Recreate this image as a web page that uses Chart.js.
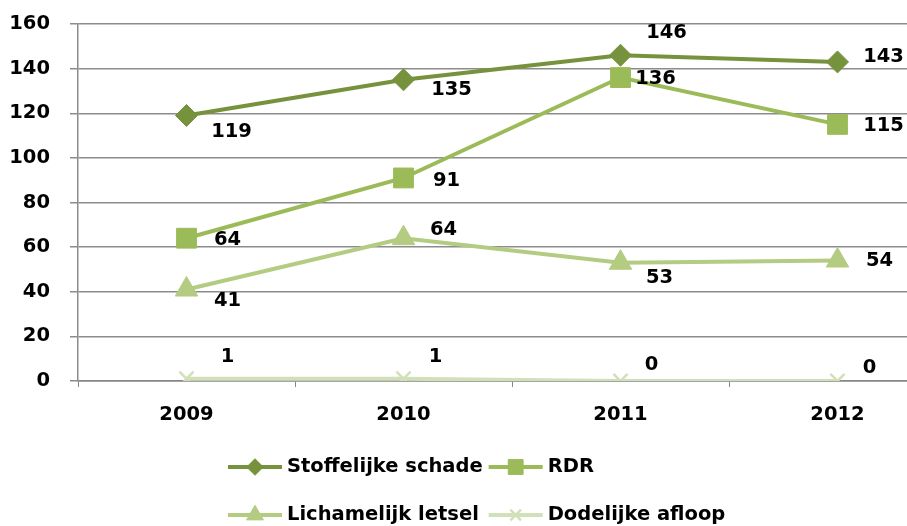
<!DOCTYPE html>
<html>
<head>
<meta charset="utf-8">
<script src="https://cdn.jsdelivr.net/npm/chart.js@4.4.1/dist/chart.umd.min.js"></script>
<style>
  html,body{margin:0;padding:0;background:#fff;overflow:hidden;}
  #wrap{width:968px;height:526px;position:relative;}
</style>
</head>
<body>
<div id="wrap"><canvas id="c"></canvas></div>
<script>
// ===== DATA =====
const jaren = ['2009','2010','2011','2012'];
const stoffelijk = [119,135,146,143];
const rdr        = [64,91,136,115];
const letsel     = [41,64,53,54];
const dodelijk   = [1,1,0,0];
const yTicks     = [0,20,40,60,80,100,120,140,160];

// label offsets (px) relatief t.o.v. het punt
const offStof = [[45,16],[48,10],[46,-22],[46,-5]];
const offRdr  = [[41,2],[43,3],[35,1],[46,2]];
const offLet  = [[41,11],[40,-8],[39,15],[42,0]];
const offDod  = [[41,-22],[32,-22],[31,-16],[32,-13]];

const FONT = '"DejaVu Sans", sans-serif';
const FS = 19.5;

function ds(label,data,color,style,radius,offs){
  return {label,data,borderColor:color,backgroundColor:color,borderWidth:4,
    pointStyle:style,pointRadius:radius,pointHoverRadius:radius,pointBorderWidth:style==='crossRot'?2.5:1,
    pointBorderColor:color,pointBackgroundColor:color,tension:0,offs};
}

// labels bij de punten
const valueLabels = {
  id:'valueLabels',
  afterDatasetsDraw(chart){
    const ctx=chart.ctx;
    ctx.save();
    ctx.font='bold '+FS+'px '+FONT;
    ctx.fillStyle='#000';
    ctx.textAlign='center';ctx.textBaseline='middle';
    chart.data.datasets.forEach((d,i)=>{
      chart.getDatasetMeta(i).data.forEach((p,j)=>{
        ctx.fillText(String(d.data[j]),p.x+d.offs[j][0],p.y+d.offs[j][1]);
      });
    });
    ctx.restore();
  }
};

// legenda in 2 kolommen (grid zoals Excel)
const gridLegend = {
  id:'gridLegend',
  afterDraw(chart){
    const ctx=chart.ctx, sets=chart.data.datasets;
    ctx.save();
    ctx.font='bold '+FS+'px '+FONT;
    const lineW=54, gap=5;
    const w=sets.map(d=>ctx.measureText(d.label).width);
    const x0=228, rows=[467,515];
    const col2=x0+lineW+gap+Math.max(w[0],w[2])+6;
    sets.forEach((d,i)=>{
      const x=i%2?col2:x0, y=rows[Math.floor(i/2)];
      ctx.strokeStyle=d.borderColor;ctx.lineWidth=4;
      ctx.beginPath();ctx.moveTo(x,y);ctx.lineTo(x+lineW,y);ctx.stroke();
      ctx.fillStyle=d.pointBackgroundColor;ctx.strokeStyle=d.pointBorderColor;
      ctx.lineWidth=d.pointBorderWidth;
      Chart.helpers.drawPoint(ctx,{pointStyle:d.pointStyle,radius:d.pointRadius*0.75,borderWidth:d.pointBorderWidth,
        rotation:0},x+lineW/2,y);
      ctx.fillStyle='#000';ctx.textAlign='left';ctx.textBaseline='middle';
      ctx.fillText(d.label,x+lineW+gap,y);
    });
    ctx.restore();
  }
};

const chart = new Chart(document.getElementById('c'),{
  type:'line',
  data:{labels:jaren,datasets:[
    ds('Stoffelijke schade',stoffelijk,'#76923C','rectRot',11,offStof),
    ds('RDR',rdr,'#9BBB59','rect',14,offRdr),
    ds('Lichamelijk letsel',letsel,'#B3CC82','triangle',13,offLet),
    ds('Dodelijke afloop',dodelijk,'#D2E0BA','crossRot',10,offDod)
  ]},
  options:{
    responsive:true,maintainAspectRatio:false,animation:false,
    layout:{padding:{top:24,right:22,left:0,bottom:0}},
    plugins:{legend:{display:false},tooltip:{enabled:false}},
    scales:{
      x:{
        offset:true,
        grid:{offset:true,drawOnChartArea:false,color:'#868686',tickLength:6,tickColor:'#868686'},
        border:{color:'#868686',width:1.5},
        ticks:{color:'#000',font:{family:FONT,size:FS,weight:'bold'},padding:16},
        afterFit(s){s.height=145;s.paddingLeft=0;s.paddingRight=0;}
      },
      y:{
        min:0,max:160,
        afterBuildTicks(s){s.ticks=yTicks.map(v=>({value:v}));},
        grid:{color:'#8C8C8C',lineWidth:1.5,tickLength:8,drawTicks:true,tickColor:'#8C8C8C'},
        border:{color:'#8C8C8C',width:1.5},
        ticks:{color:'#000',font:{family:FONT,size:FS,weight:'bold'},padding:20},
        afterFit(s){s.width=78;s.paddingTop=0;s.paddingBottom=0;}
      }
    }
  },
  plugins:[valueLabels,gridLegend]
});
</script>
</body>
</html>
